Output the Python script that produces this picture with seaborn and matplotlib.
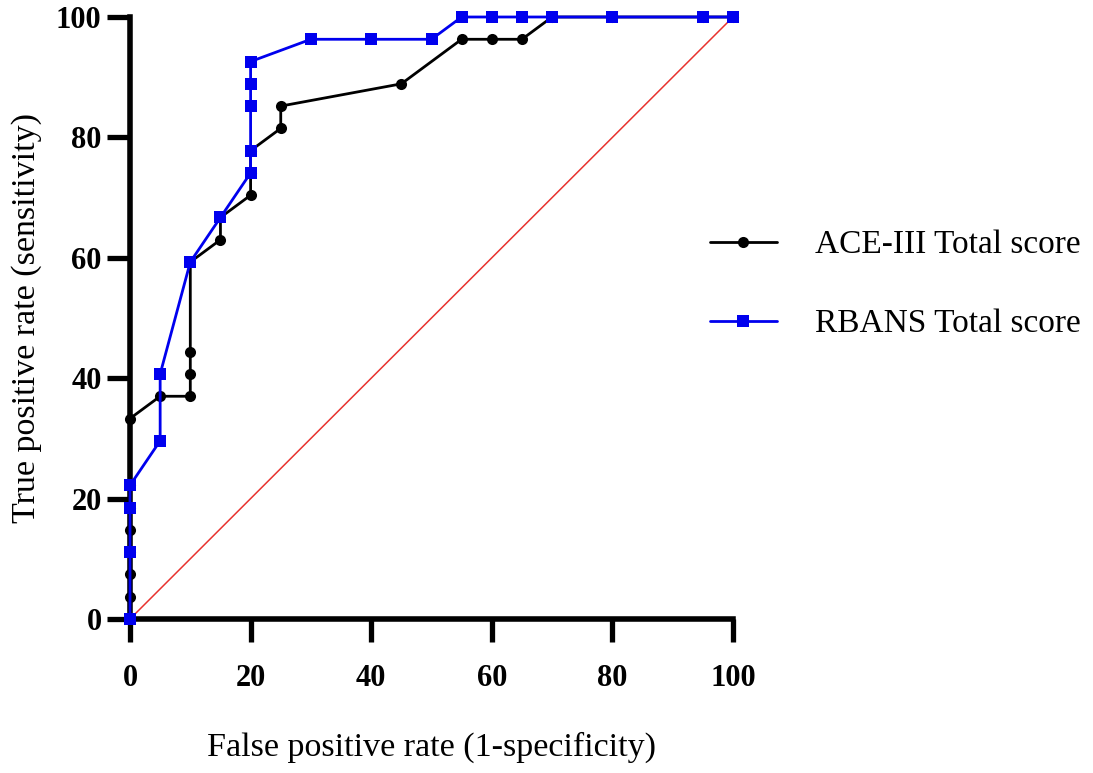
import numpy as np
import pandas as pd
import seaborn as sns
import matplotlib
matplotlib.use("Agg")
import matplotlib.pyplot as plt

# ACE-III Total score ROC points (FPR %, TPR %)
ace_fpr = [0, 0, 0, 0, 0, 0, 0, 0, 5, 10, 10, 10, 10, 15, 15, 20, 20, 20, 25, 25, 45, 55, 60, 65, 70, 80, 95, 100]
ace_tpr = [0, 3.7, 7.4, 11.1, 14.8, 18.5, 22.2, 33.3, 37.0, 37.0, 40.7, 44.4, 59.3, 63.0, 66.7, 70.4, 74.1, 77.8, 81.5, 85.2, 88.9, 96.3, 96.3, 96.3, 100, 100, 100, 100]

# RBANS Total score ROC points
rb_fpr = [0, 0, 0, 0, 5, 5, 10, 15, 20, 20, 20, 20, 20, 30, 40, 50, 55, 60, 65, 70, 80, 95, 100]
rb_tpr = [0, 11.1, 18.5, 22.2, 29.6, 40.7, 59.3, 66.7, 74.1, 77.8, 85.2, 88.9, 92.6, 96.3, 96.3, 96.3, 100, 100, 100, 100, 100, 100, 100]

ref_x = [0, 100]
ref_y = [0, 100]

xticks = [0, 20, 40, 60, 80, 100]
yticks = [0, 20, 40, 60, 80, 100]
series_names = ["ACE-III Total score", "RBANS Total score"]

sns.set_style("ticks")
plt.rcParams['font.family'] = ['Liberation Serif', 'DejaVu Serif']
plt.rcParams['text.color'] = 'black'
plt.rcParams['axes.labelcolor'] = 'black'

fig = plt.figure(figsize=(10.93, 7.73), dpi=100)
ax = fig.add_axes([130/1093, (773-619)/773, 603/1093, 602/773])

df_ace = pd.DataFrame({"x": ace_fpr, "y": ace_tpr})
df_rb = pd.DataFrame({"x": rb_fpr, "y": rb_tpr})
df_ref = pd.DataFrame({"x": ref_x, "y": ref_y})

sns.lineplot(data=df_ref, x="x", y="y", ax=ax, color="#e8322e", linewidth=1.1,
             sort=False, estimator=None, zorder=2)
sns.lineplot(data=df_ace, x="x", y="y", ax=ax, color="black", linewidth=2.0,
             marker="o", markersize=8, markeredgewidth=0, sort=False, estimator=None,
             label=series_names[0], zorder=3)
sns.lineplot(data=df_rb, x="x", y="y", ax=ax, color="#0000ee", linewidth=2.0,
             marker="s", markersize=8, markeredgewidth=0, sort=False, estimator=None,
             label=series_names[1], zorder=4)

ax.set_xlim(0, 100)
ax.set_ylim(0, 100)
ax.set_xticks(xticks)
ax.set_yticks(yticks)
ax.set_xticklabels([str(t) for t in xticks], fontsize=22, fontweight="bold")
ax.set_yticklabels([str(t) for t in yticks], fontsize=22, fontweight="bold")
ax.tick_params(axis="x", length=16.5, width=3.8, pad=16, direction="out", colors="black")
ax.tick_params(axis="y", length=16.5, width=3.8, pad=4, direction="out", colors="black")
for s in ["left", "bottom"]:
    ax.spines[s].set_linewidth(4.0)
    ax.spines[s].set_color("black")
for s in ["top", "right"]:
    ax.spines[s].set_visible(False)
for sp in ax.spines.values():
    sp.set_clip_on(False)

ax.set_xlabel("False positive rate (1-specificity)", fontsize=24.5, labelpad=28)
ax.set_ylabel("True positive rate (sensitivity)", fontsize=24.5, labelpad=10)

for line in ax.lines:
    line.set_clip_on(False)

ax.get_legend().remove()
handles, labels = ax.get_legend_handles_labels()
fig.legend(handles[-2:], labels[-2:], loc="center left",
           bbox_to_anchor=(710/1093, (773-284.5)/773), frameon=False,
           fontsize=24, handlelength=2.0, handletextpad=1.15, labelspacing=1.45,
           borderpad=0, borderaxespad=0)

fig.savefig("out.png", dpi=100)
